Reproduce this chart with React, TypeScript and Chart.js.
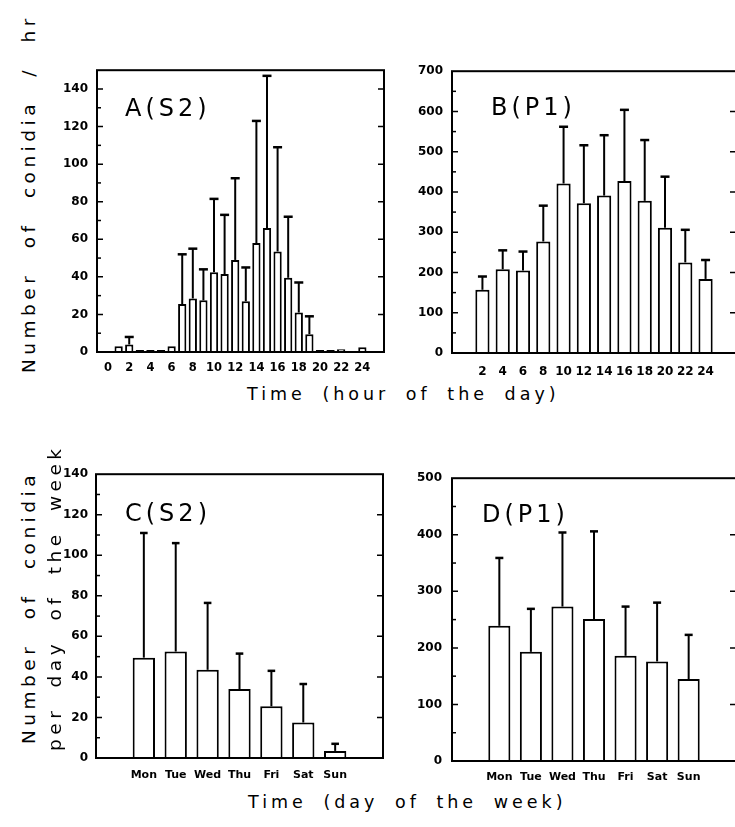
import React, { useEffect, useRef } from 'react';
import { Chart, registerables } from 'chart.js';

Chart.register(...registerables);

// ---------- data ----------
const hoursA = [1, 2, 3, 4, 5, 6, 7, 8, 9, 10, 11, 12, 13, 14, 15, 16, 17, 18, 19, 20, 21, 22, 23, 24];
const meanA = [3, 4, 1, 1, 1, 3, 25.5, 28.5, 27.5, 42.5, 41.5, 49, 27, 58, 66, 53.5, 39.5, 21, 9.5, 1, 1, 1.5, 0.3, 2.5];
const errA = [null, 8, null, null, null, null, 52, 55, 44, 81.5, 73, 92.5, 45, 123, 147, 109, 72, 37, 19, null, null, null, null, null];

const hoursB = [2, 4, 6, 8, 10, 12, 14, 16, 18, 20, 22, 24];
const meanB = [157, 208, 205, 277, 421, 372, 391, 427, 378, 311, 225, 184];
const errB = [190, 255, 252, 366, 562, 516, 541, 604, 529, 438, 306, 231];

const days = ['Mon', 'Tue', 'Wed', 'Thu', 'Fri', 'Sat', 'Sun'];
const dayPos = [1, 2, 3, 4, 5, 6, 7];
const meanC = [49.5, 52.5, 43.5, 34, 25.5, 17.5, 3.5];
const errC = [111, 106, 76.5, 51.5, 43, 36.5, 7];
const meanD = [239, 193, 273, 251, 186, 176, 145];
const errD = [359, 269, 404, 406, 273, 280, 223];

const FONT = '"DejaVu Sans", sans-serif';
const Y_W = 50;
const X_H = 30;
const PAD_T = 10;
const PAD_R = 10;

type Panel = {
  key: string;
  area: [number, number, number, number]; // left, top, right, bottom of plot
  xs: number[];
  means: number[];
  errs: (number | null)[];
  xMin: number;
  xMax: number;
  xStep: number;
  xLabel: (v: number) => string;
  xFont: number;
  xPad: number;
  yMax: number;
  yStep: number;
  yPad: number;
  barPct: number;
  cap: number;
  label: string;
  labelDx: number;
  labelDy: number;
};

const panels: Panel[] = [
  {
    key: 'A', area: [97, 64, 384, 352], xs: hoursA, means: meanA, errs: errA,
    xMin: 0, xMax: 25, xStep: 2, xLabel: (v) => (v <= 24 ? String(v) : ''), xFont: 11.5, xPad: 9,
    yMax: 150, yStep: 20, yPad: 9, barPct: 0.78, cap: 4.5, label: 'A(S2)', labelDx: 28, labelDy: 46,
  },
  {
    key: 'B', area: [452, 65, 736, 353], xs: hoursB, means: meanB, errs: errB,
    xMin: 0, xMax: 26, xStep: 2, xLabel: (v) => (v > 0 && v < 26 ? String(v) : ''), xFont: 12, xPad: 12,
    yMax: 700, yStep: 100, yPad: 9, barPct: 0.7, cap: 4.5, label: 'B(P1)', labelDx: 39, labelDy: 44,
  },
  {
    key: 'C', area: [96, 469, 383, 758], xs: dayPos, means: meanC, errs: errC,
    xMin: 0, xMax: 8, xStep: 1, xLabel: (v) => days[v - 1] || '', xFont: 11, xPad: 11,
    yMax: 140, yStep: 20, yPad: 8, barPct: 0.7, cap: 3.8, label: 'C(S2)', labelDx: 29, labelDy: 47,
  },
  {
    key: 'D', area: [452, 471, 736, 761], xs: dayPos, means: meanD, errs: errD,
    xMin: 0, xMax: 8, xStep: 1, xLabel: (v) => days[v - 1] || '', xFont: 11, xPad: 10,
    yMax: 500, yStep: 100, yPad: 10, barPct: 0.7, cap: 4, label: 'D(P1)', labelDx: 30, labelDy: 44,
  },
];

const decorPlugin = {
  id: 'decor',
  afterDatasetsDraw(chart: any, _args: any, opts: any) {
    const { ctx, chartArea: ca, scales } = chart;
    const y = scales.y;
    ctx.save();
    ctx.strokeStyle = '#000';
    ctx.lineCap = 'butt';
    // error bars
    const meta = chart.getDatasetMeta(0);
    meta.data.forEach((el: any, i: number) => {
      const e = opts.errs[i];
      if (e == null) return;
      const yTop = y.getPixelForValue(e);
      ctx.lineWidth = 2;
      ctx.beginPath();
      ctx.moveTo(el.x, el.y);
      ctx.lineTo(el.x, yTop);
      ctx.stroke();
      ctx.lineWidth = 2.5;
      ctx.beginPath();
      ctx.moveTo(el.x - opts.cap, yTop);
      ctx.lineTo(el.x + opts.cap, yTop);
      ctx.stroke();
    });
    // inward tick marks
    ctx.lineWidth = 1.5;
    const half = opts.yStep / 2;
    for (let v = half; v < opts.yMax; v += half) {
      const py = y.getPixelForValue(v);
      const major = Math.abs(v / opts.yStep - Math.round(v / opts.yStep)) < 1e-6;
      ctx.beginPath();
      ctx.moveTo(ca.left, py);
      ctx.lineTo(ca.left + (major ? 6 : 4), py);
      if (major) {
        ctx.moveTo(ca.right, py);
        ctx.lineTo(ca.right - 6, py);
      }
      ctx.stroke();
    }
    // frame
    ctx.lineWidth = 2;
    ctx.strokeRect(ca.left, ca.top, ca.right - ca.left, ca.bottom - ca.top);
    // panel label
    ctx.fillStyle = '#000';
    ctx.font = `24px ${FONT}`;
    (ctx as any).letterSpacing = '4px';
    ctx.textAlign = 'left';
    ctx.textBaseline = 'alphabetic';
    ctx.fillText(opts.label, ca.left + opts.labelDx, ca.top + opts.labelDy);
    ctx.restore();
  },
};

function PanelChart({ p }: { p: Panel }) {
  const ref = useRef<HTMLCanvasElement | null>(null);
  const [l, t, r, b] = p.area;
  const cx = l - Y_W;
  const cy = t - PAD_T;
  const cw = r + PAD_R - cx;
  const ch = b + X_H - cy;

  useEffect(() => {
    if (!ref.current) return;
    const chart = new Chart(ref.current, {
      type: 'bar',
      data: {
        datasets: [
          {
            data: p.xs.map((x, i) => ({ x, y: p.means[i] })),
            backgroundColor: '#ffffff',
            borderColor: '#000000',
            borderWidth: 2,
            barPercentage: p.barPct,
            categoryPercentage: 1,
          },
        ],
      },
      options: {
        animation: false,
        responsive: false,
        maintainAspectRatio: false,
        layout: { padding: { top: PAD_T, right: PAD_R, left: 0, bottom: 0 } },
        plugins: {
          legend: { display: false },
          tooltip: { enabled: false },
          decor: { errs: p.errs, cap: p.cap, yStep: p.yStep, yMax: p.yMax, label: p.label, labelDx: p.labelDx, labelDy: p.labelDy },
        } as any,
        scales: {
          x: {
            type: 'linear',
            min: p.xMin,
            max: p.xMax,
            grid: { display: false, drawTicks: false },
            border: { display: false },
            ticks: {
              stepSize: p.xStep,
              includeBounds: false,
              autoSkip: false,
              maxRotation: 0,
              padding: p.xPad,
              color: '#000',
              font: { family: FONT, weight: 'bold', size: p.xFont },
              callback: (v: any) => p.xLabel(Number(v)),
            },
            afterFit: (s: any) => { s.height = X_H; },
          },
          y: {
            type: 'linear',
            min: 0,
            max: p.yMax,
            grid: { display: false, drawTicks: false },
            border: { display: false },
            ticks: {
              stepSize: p.yStep,
              includeBounds: false,
              padding: p.yPad,
              color: '#000',
              font: { family: FONT, weight: 'bold', size: 12 },
              callback: (v: any) => String(v),
            },
            afterFit: (s: any) => { s.width = Y_W; },
          },
        } as any,
      },
      plugins: [decorPlugin as any],
    });
    return () => chart.destroy();
  }, []);

  return (
    <canvas
      ref={ref}
      width={cw}
      height={ch}
      style={{ position: 'absolute', left: cx, top: cy, width: cw, height: ch }}
    />
  );
}

const titleBase: React.CSSProperties = {
  position: 'absolute',
  fontFamily: FONT,
  whiteSpace: 'nowrap',
  color: '#000',
};

export default function App() {
  return (
    <div style={{ position: 'absolute', left: 0, top: 0, width: 735, height: 827, overflow: 'hidden', background: '#fff' }}>
      {panels.map((p) => (
        <PanelChart key={p.key} p={p} />
      ))}
      <div style={{ ...titleBase, left: 247, top: 386, fontSize: 17.5, lineHeight: '17.5px', letterSpacing: 4, wordSpacing: 7 }}>
        Time (hour of the day)
      </div>
      <div style={{ ...titleBase, left: 248, top: 793.5, fontSize: 17.5, lineHeight: '17.5px', letterSpacing: 4, wordSpacing: 7 }}>
        Time (day of the week)
      </div>
      <div style={{ ...titleBase, left: 20, top: 373, fontSize: 18.5, lineHeight: '18.5px', letterSpacing: 4.5, wordSpacing: 13, transform: 'rotate(-90deg)', transformOrigin: 'left top' }}>
        Number of conidia / hr
      </div>
      <div style={{ ...titleBase, left: 20, top: 744, fontSize: 18.5, lineHeight: '18.5px', letterSpacing: 4.5, wordSpacing: 13, transform: 'rotate(-90deg)', transformOrigin: 'left top' }}>
        Number of conidia
      </div>
      <div style={{ ...titleBase, left: 46, top: 751, fontSize: 18.5, lineHeight: '18.5px', letterSpacing: 4.5, wordSpacing: 9, transform: 'rotate(-90deg)', transformOrigin: 'left top' }}>
        per day of the week
      </div>
    </div>
  );
}
